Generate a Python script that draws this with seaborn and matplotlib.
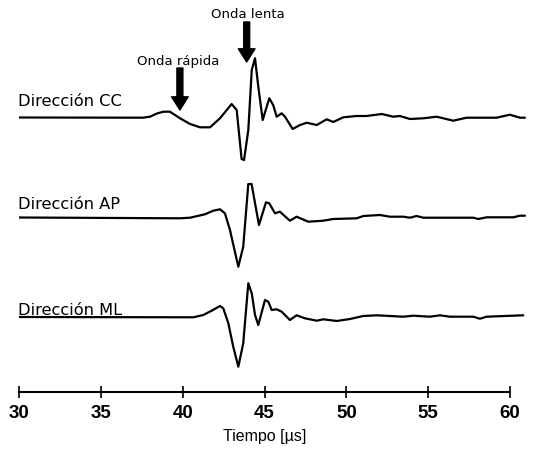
import numpy as np
import pandas as pd
import matplotlib
matplotlib.use("Agg")
import matplotlib.pyplot as plt
import seaborn as sns

# ---- data (time in µs, amplitude in arbitrary units) ----
cc_t = [30.0, 37.57, 38.00, 38.43, 38.82, 39.22, 39.84, 40.45, 41.06, 41.67, 42.28, 42.99, 43.30,
        43.60, 43.75, 44.01, 44.22, 44.42, 44.62, 44.89, 45.29, 45.53, 45.74, 46.05, 46.25, 46.72,
        47.17, 47.58, 48.19, 48.80, 49.20, 49.81, 50.63, 51.24, 52.16, 52.87, 53.27, 53.89, 54.70,
        55.52, 56.53, 57.35, 59.18, 59.99, 60.60, 60.91]
cc_a = [0, -0.2, 0.8, 4.0, 5.8, 5.8, -0.8, -6.5, -9.8, -9.8, -0.8, 13.5, 7.5,
        -41.5, -42.5, -12.5, 47.5, 59.2, 30.8, -2.5, 19.2, 12.5, 0.8, 4.2, 0.8, -11.5,
        -7.5, -5.2, -7.5, -1.8, -4.5, 0.2, 1.5, 1.5, 3.5, 0.8, 1.5, -1.5, -0.8,
        0.8, -3.2, -0.2, -0.2, 2.8, -0.2, -0.2]

ap_t = [30.0, 39.84, 40.45, 41.36, 41.87, 42.28, 42.58, 42.89, 43.19, 43.40, 43.70, 44.01, 44.21,
        44.66, 45.09, 45.29, 45.64, 45.94, 46.55, 46.96, 47.67, 48.59, 49.20, 50.63, 51.04, 52.05,
        52.66, 53.48, 53.89, 54.29, 54.70, 57.75, 58.06, 58.57, 60.20, 60.60, 60.91]
ap_a = [0, -0.8, -0.2, 3.2, 6.8, 8.2, 4.2, -12.5, -34.2, -49.2, -29.2, 33.5, 33.5,
        -7.5, 15.2, 14.2, 4.2, 5.8, -3.2, 0.8, -4.2, -3.2, -1.5, -0.8, 1.5, 2.5,
        0.8, 0.8, -0.2, 1.5, -0.2, -0.2, -1.5, 0.2, 0.2, 1.8, 1.8]

ml_t = [30.0, 40.65, 41.26, 41.77, 42.28, 42.48, 42.79, 43.09, 43.40, 43.70, 44.01, 44.22, 44.42,
        44.62, 45.03, 45.23, 45.44, 45.74, 46.05, 46.55, 46.96, 47.47, 48.19, 48.59, 49.41, 50.22,
        51.03, 51.85, 52.66, 53.48, 54.09, 55.11, 55.72, 56.33, 57.75, 58.16, 58.57, 60.81]
ml_a = [0, -0.3, 2.0, 6.3, 11.0, 8.7, -6.3, -29.7, -49.7, -26.3, 33.7, 23.7, 2.0,
        -8.0, 17.0, 15.3, 7.0, 7.7, 5.3, -3.0, 1.7, -1.3, -3.7, -2.3, -4.0, -2.0,
        1.0, 1.7, 1.0, 0.3, 1.3, 0.3, 1.7, 0.3, 0.3, -1.7, 0.3, 1.7]

labels = ["Dirección CC", "Dirección AP", "Dirección ML"]
xticks = [30, 35, 40, 45, 50, 55, 60]

# ---- build table ----
offsets = [0.0, -100.0, -199.5]
frames = []
for lab, t, a, off in zip(labels, [cc_t, ap_t, ml_t], [cc_a, ap_a, ml_a], offsets):
    frames.append(pd.DataFrame({"t": t, "y": np.array(a) + off, "serie": lab}))
df = pd.concat(frames, ignore_index=True)

sns.set_style("white")
plt.rcParams["font.family"] = ["DejaVu Sans"]
plt.rcParams["text.color"] = "black"
plt.rcParams["xtick.color"] = "black"
plt.rcParams["axes.labelcolor"] = "black"

fig = plt.figure(figsize=(5.37, 4.53), dpi=100)
ax = fig.add_axes([19 / 537, (453 - 392) / 453, 507.4 / 537, 392 / 453])

sns.lineplot(data=df, x="t", y="y", units="serie", estimator=None, sort=False,
             color="black", linewidth=1.6, ax=ax, legend=False)

ax.set_xlim(30, 61)
ax.set_ylim(-274.5, 117.5)

# series labels
label_y = [11.5, -100 + 8.5, -199.5 + 2.0]
for lab, yy in zip(labels, label_y):
    ax.text(29.95, yy, lab, fontsize=11.7, ha="left", va="baseline", color="black")

# arrows
ax.annotate("", xy=(39.83, 7.5), xytext=(39.83, 49.5),
            arrowprops=dict(facecolor="black", edgecolor="black", width=4.3,
                            headwidth=12, headlength=9.5, shrink=0))
ax.text(39.7, 55.5, "Onda rápida", fontsize=9.5, ha="center", va="center", color="black")
ax.annotate("", xy=(43.91, 55.5), xytext=(43.91, 95.5),
            arrowprops=dict(facecolor="black", edgecolor="black", width=4.3,
                            headwidth=12, headlength=9.5, shrink=0))
ax.text(44.0, 103.5, "Onda lenta", fontsize=9.5, ha="center", va="center", color="black")

# axis styling
for s in ["top", "right", "left"]:
    ax.spines[s].set_visible(False)
ax.spines["bottom"].set_bounds(30, 60)
ax.spines["bottom"].set_linewidth(1.5)
ax.spines["bottom"].set_color("black")
ax.set_yticks([])
ax.set_ylabel("")
ax.set_xticks(xticks)
ax.set_xticklabels([str(v) for v in xticks], fontfamily="Liberation Sans",
                   fontweight="bold", fontsize=13.5)
ax.tick_params(axis="x", bottom=True, direction="inout", length=8.5, width=1.2,
               pad=5, colors="black")
ax.set_xlabel("Tiempo [µs]", fontfamily="Liberation Sans", fontsize=11.5)
ax.xaxis.set_label_coords(15 / 31, -0.095)
ax.set_facecolor("white")
fig.patch.set_facecolor("white")

fig.savefig("out.png", dpi=100)
